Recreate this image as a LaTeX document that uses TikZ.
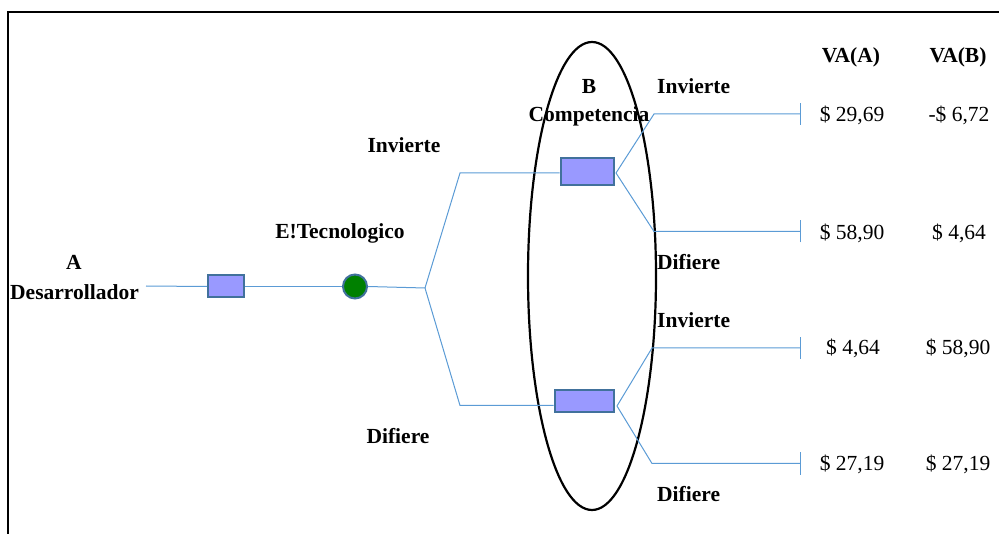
\documentclass[tikz,border=0pt]{standalone}
\usepackage{fontspec}
\setmainfont{Liberation Serif}
\usetikzlibrary{shapes.geometric}
\definecolor{lblue}{HTML}{5B9BD5}
\definecolor{dblue}{HTML}{41719C}
\begin{document}
\begin{tikzpicture}[x=1pt,y=-1pt,
  conn/.style={draw=lblue, line width=1pt},
  dec/.style={draw=dblue, line width=2pt, fill=blue!40, minimum width=#1, minimum height=22pt, inner sep=0pt},
  chance/.style={circle, draw=dblue, line width=2pt, fill=green!50!black, minimum size=24pt, inner sep=0pt},
  lbl/.style={font=\fontsize{21.5}{24}\selectfont\bfseries, inner sep=0pt},
  val/.style={font=\fontsize{21.5}{24}\selectfont, inner sep=0pt}]
\useasboundingbox (0,0) rectangle (999,534);
% frame
\draw[line width=2pt] (999,12) -- (8,12) -- (8,534);
% ellipse
\node[draw, ellipse, line width=2.2pt, minimum width=128pt, minimum height=468pt, inner sep=0pt] (ell) at (592,276) {};
% labels
\node[lbl] (tA) at (74,262) {A};
\node[lbl] (tDes) at (74.5,292) {Desarrollador};
\node[lbl] (tInv1) at (404,145) {Invierte};
\node[lbl] (tET) at (340,233) {E!Tecnologico};
\node[lbl] (tDif1) at (398,436) {Difiere};
\node[lbl] (tB) at (589,86) {B};
\node[lbl] (tComp) at (589,116) {Competencia};
\node[lbl, anchor=west] (tInv2) at (657,86) {Invierte};
\node[lbl, anchor=west] (tDif2) at (657,262) {Difiere};
\node[lbl, anchor=west] (tInv3) at (657,320) {Invierte};
\node[lbl, anchor=west] (tDif3) at (657,494) {Difiere};
\node[lbl] (tVA) at (851,57) {VA(A)};
\node[lbl] (tVB) at (958,57) {VA(B)};
% nodes
\coordinate (s0) at (146,286);
\node[dec=36pt] (d1) at (226,286.5) {};
\node[chance] (c1) at (355,286.5) {};
\coordinate (br) at (425,288);
\coordinate (ku) at (460,173);
\coordinate (kl) at (460,405.5);
\node[dec=53pt, minimum height=27pt] (d2) at (587,171.5) {};
\node[dec=59pt] (d3) at (584,401) {};
\coordinate (r2) at (616,173);
\coordinate (r3) at (617,406);
\coordinate (e1) at (654,114);
\coordinate (e2) at (654,231.5);
\coordinate (e3) at (652,348);
\coordinate (e4) at (652,463.5);
\coordinate (t1) at (800,114);
\coordinate (t2) at (800,231.5);
\coordinate (t3) at (800,348);
\coordinate (t4) at (800,463.5);
% connectors
\draw[conn] (s0) -- (d1.west);
\draw[conn] (d1.east) -- (c1.west);
\draw[conn] (c1.east) -- (br);
\draw[conn] (br) -- (ku) -- (d2.west |- ku);
\draw[conn] (br) -- (kl) -- (d3.west |- kl);
\draw[conn] (r2) -- (e1) -- (t1);
\draw[conn] (r2) -- (e2) -- (t2);
\draw[conn] (r3) -- (e3) -- (t3);
\draw[conn] (r3) -- (e4) -- (t4);
\foreach \t in {t1,t2,t3,t4}{\draw[conn] ([yshift=-11pt]\t) -- ([yshift=11pt]\t);}
% values
\node[val] (a1) at (852,115) {\$ 29,69};
\node[val] (b1) at (959,115) {-\$ 6,72};
\node[val] (a2) at (852,233) {\$ 58,90};
\node[val] (b2) at (959,233) {\$ 4,64};
\node[val] (a3) at (853,348) {\$ 4,64};
\node[val] (b3) at (958,348) {\$ 58,90};
\node[val] (a4) at (852,464) {\$ 27,19};
\node[val] (b4) at (958,464) {\$ 27,19};
\end{tikzpicture}
\end{document}
